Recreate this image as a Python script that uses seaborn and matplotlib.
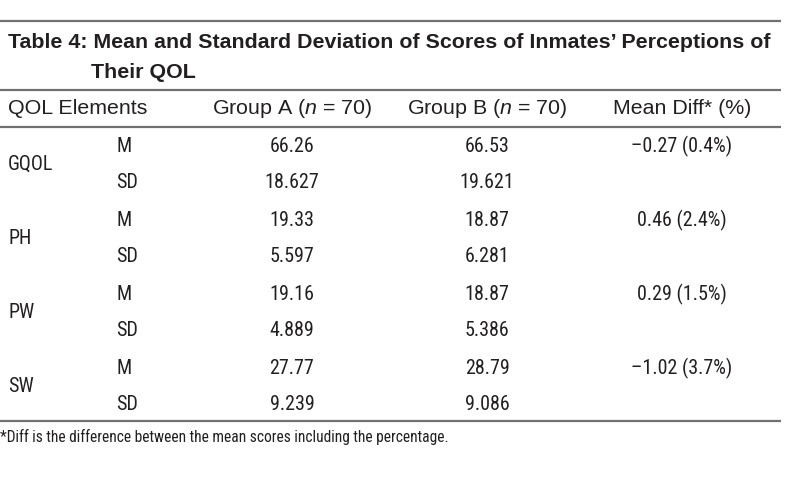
import pandas as pd
import matplotlib.pyplot as plt
import seaborn as sns

# ========== 数据 ==========
title_line1 = "Table 4: Mean and Standard Deviation of Scores of Inmates’ Perceptions of"
title_line2 = "Their QOL"
elements = ["GQOL", "PH", "PW", "SW"]
stats = ["M", "SD"]
group_a = ["66.26", "18.627", "19.33", "5.597", "19.16", "4.889", "27.77", "9.239"]
group_b = ["66.53", "19.621", "18.87", "6.281", "18.87", "5.386", "28.79", "9.086"]
mean_diff = ["–0.27 (0.4%)", "0.46 (2.4%)", "0.29 (1.5%)", "–1.02 (3.7%)"]
footnote = "*Diff is the difference between the mean scores including the percentage."

df = pd.DataFrame({
    "element": [e for e in elements for _ in stats],
    "stat": stats * len(elements),
    "A": group_a,
    "B": group_b,
})

# ========== 样式 ==========
sns.set_theme(style="white")
plt.rcParams['font.family'] = ['Liberation Sans', 'DejaVu Sans']
plt.rcParams['mathtext.fontset'] = 'custom'
plt.rcParams['mathtext.it'] = 'Liberation Sans:italic'
plt.rcParams['mathtext.rm'] = 'Liberation Sans'

ink = "#231f20"
rule = "#707070"
cond = ['Roboto Condensed', 'DejaVu Sans']

fig = plt.figure(figsize=(7.99, 4.93), dpi=100)
ax = fig.add_axes([0, 0, 1, 1])
ax.set_xlim(0, 799)
ax.set_ylim(493, 0)
ax.axis("off")

# 横线
for y in [21, 90, 127, 421]:
    ax.plot([0, 781], [y, y], color=rule, lw=1.6, solid_capstyle="butt")

# 标题
ax.text(8, 42, title_line1, fontsize=15.4, fontweight="bold", color=ink, va="center", ha="left")
ax.text(91, 73, title_line2, fontsize=15.4, fontweight="bold", color=ink, va="center", ha="left")

# 表头
col_a, col_b, col_d = 292, 487, 682
hy = 108
head = dict(fontsize=15.4, color=ink, va="center")
ax.text(8, hy, "QOL Elements", ha="left", **head)
ax.text(col_a, hy, "Group A ($\\it{n}$ = 70)", ha="center", **head)
ax.text(col_b, hy, "Group B ($\\it{n}$ = 70)", ha="center", **head)
ax.text(col_d, hy, "Mean Diff* (%)", ha="center", **head)

# 数据行
y0, dy = 146, 37
body = dict(fontsize=14.4, color=ink, va="center", family=cond)
for i, row in df.iterrows():
    y = y0 + i * dy
    ax.text(116, y, row["stat"], ha="left", **body)
    ax.text(col_a, y, row["A"], ha="center", **body)
    ax.text(col_b, y, row["B"], ha="center", **body)
for k, e in enumerate(elements):
    y = y0 + 2 * k * dy
    ax.text(8, y + dy / 2, e, ha="left", **body)
    ax.text(col_d, y, mean_diff[k], ha="center", **body)

# 脚注
ax.text(0, 437, footnote, fontsize=11.2, color=ink, va="center", ha="left", family=cond)

fig.savefig("out.png", dpi=100)
